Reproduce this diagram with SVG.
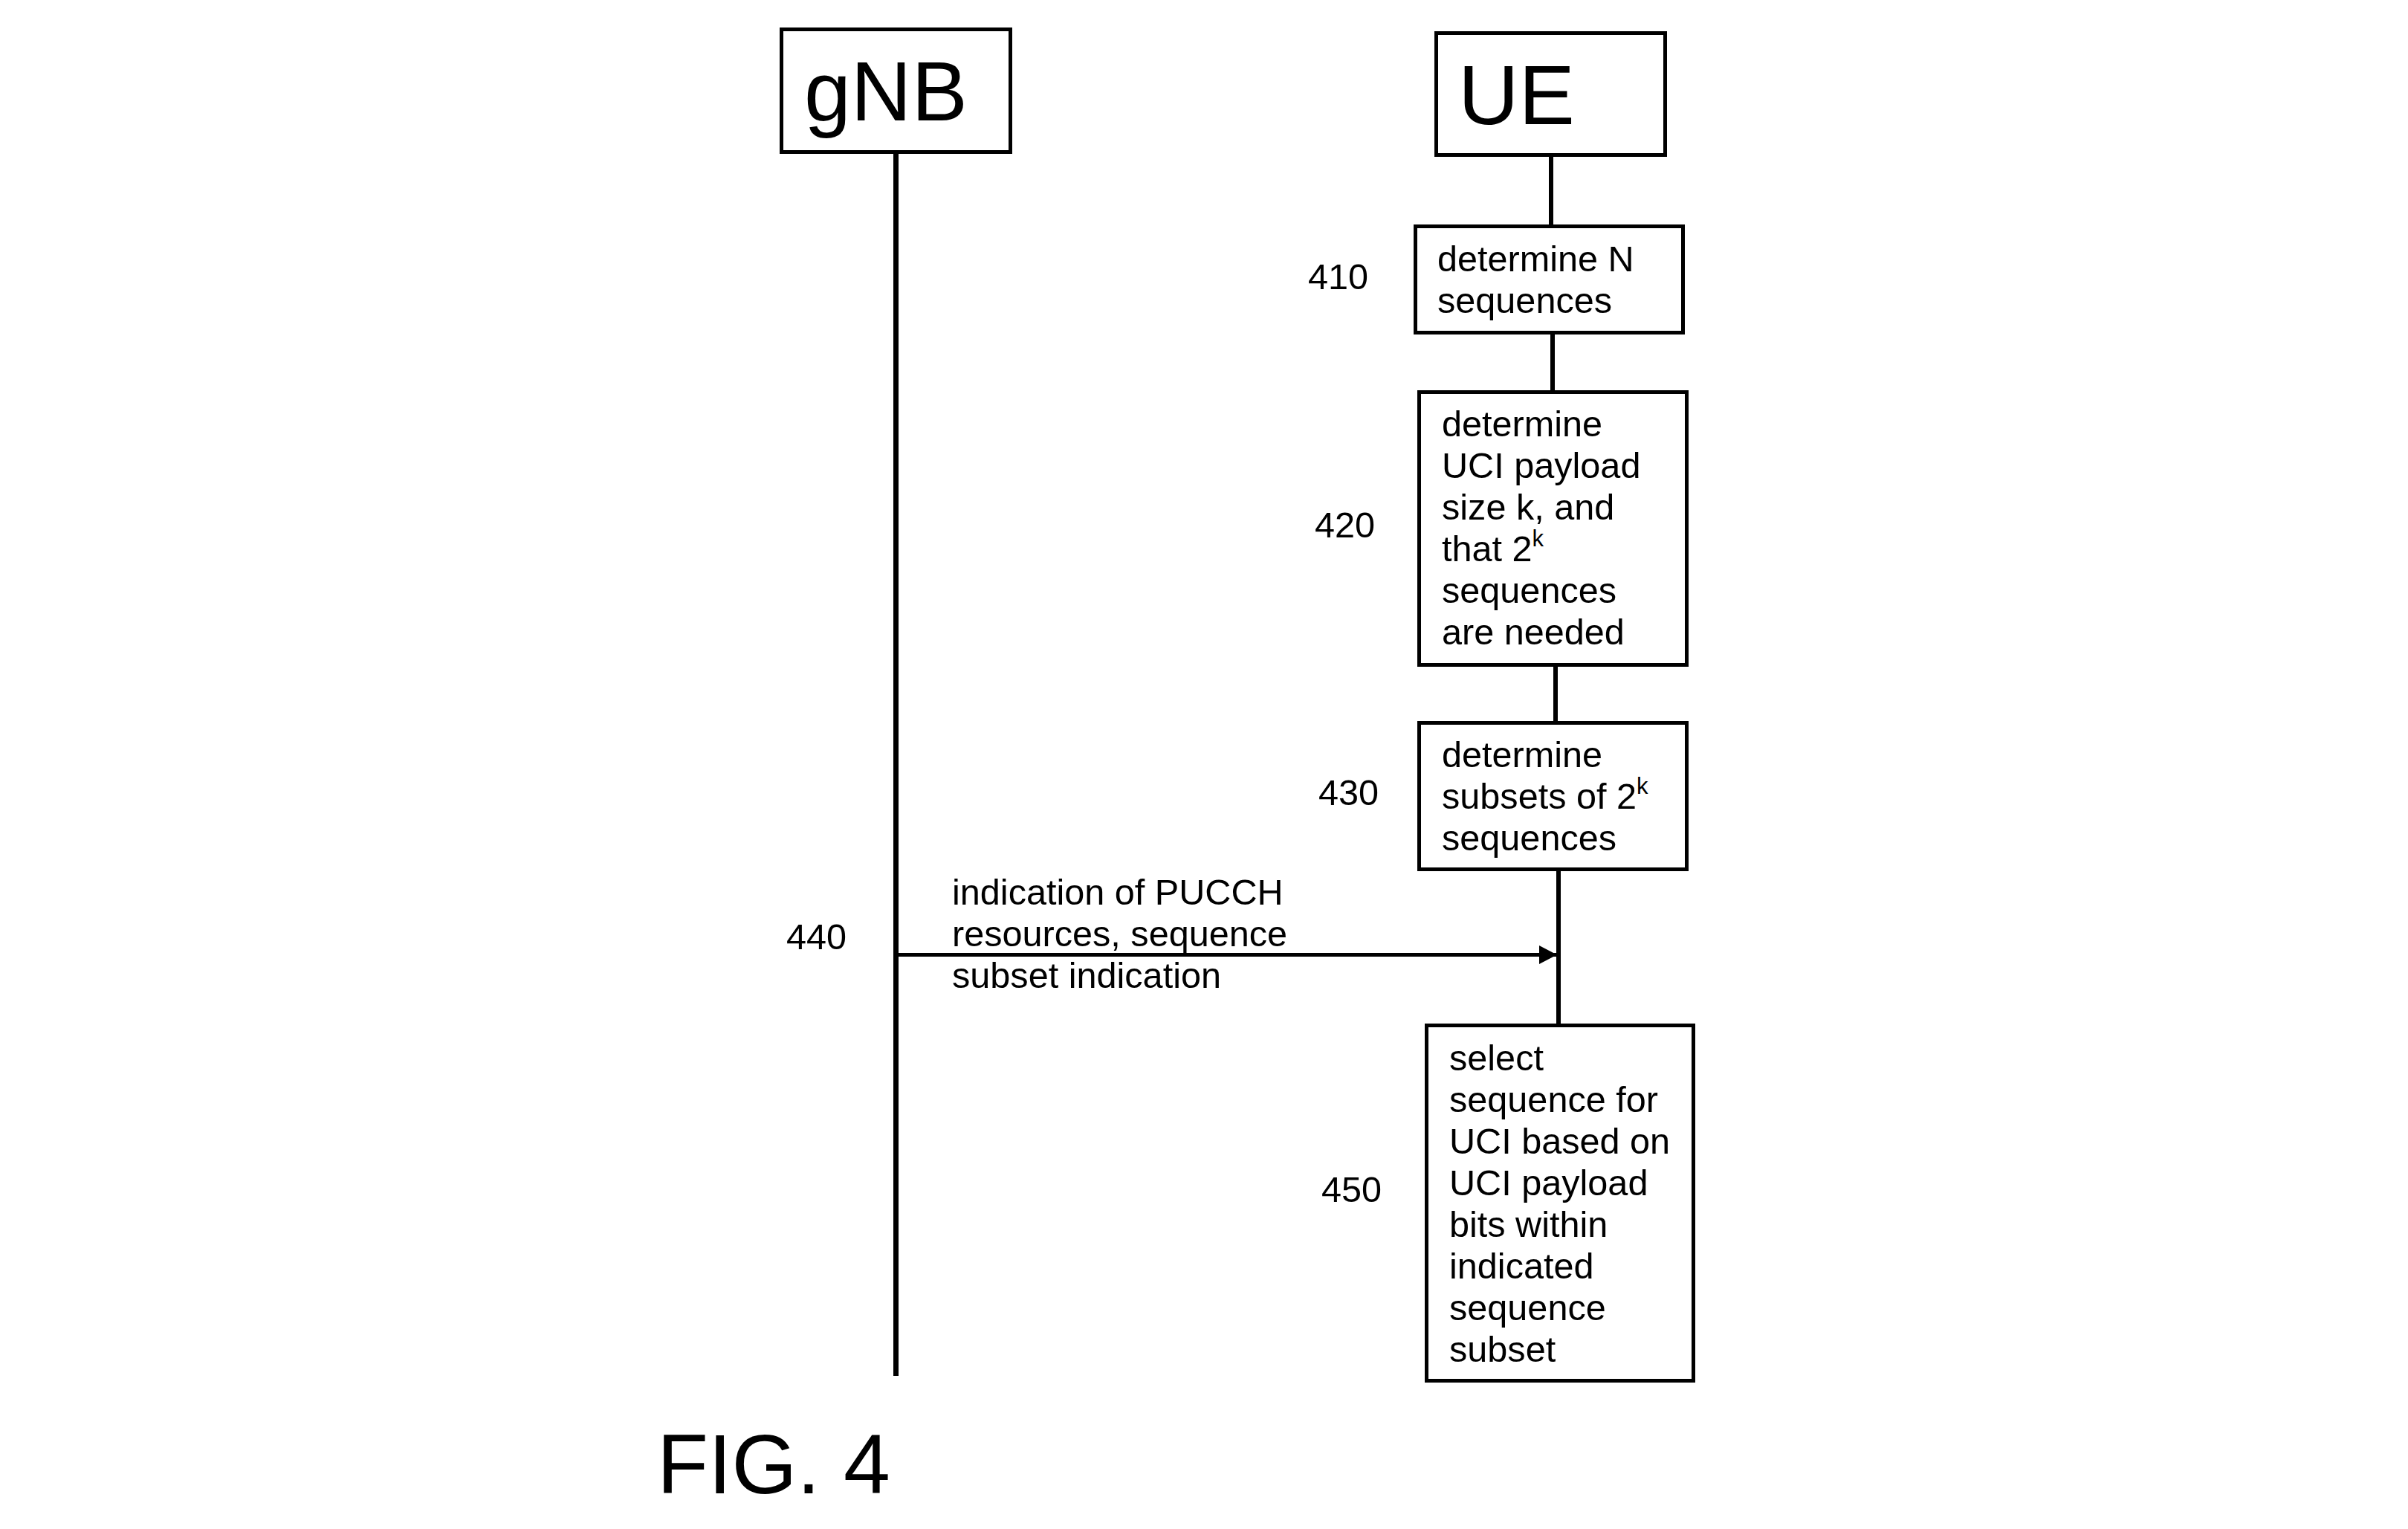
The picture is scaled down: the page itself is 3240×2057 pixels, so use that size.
<svg xmlns="http://www.w3.org/2000/svg" width="3240" height="2057" viewBox="0 0 3240 2057">
<style>
.box{fill:#fff;stroke:#000;stroke-width:5}
.life{stroke:#000;stroke-width:7;fill:none}
.seg{stroke:#000;stroke-width:6;fill:none}
.msg{stroke:#000;stroke-width:5;fill:none}
text{font-family:"Liberation Sans",Arial,sans-serif;fill:#000}
.big{font-size:113px}
.t{font-size:48.6px}
.sup{font-size:31px}
</style>
<defs>
<marker id="ah" markerUnits="userSpaceOnUse" markerWidth="24" markerHeight="25" refX="24" refY="12.5" orient="auto">
<path d="M0,0 L24,12.5 L0,25 Z" fill="#000"/>
</marker>
</defs>
<rect width="3240" height="2057" fill="#fff"/>
<g id="connectors">
<line class="life" x1="1205.5" y1="207" x2="1205.5" y2="1851"/>
<line class="seg" x1="2087" y1="211" x2="2087" y2="302"/>
<line class="seg" x1="2089" y1="450" x2="2089" y2="525"/>
<line class="seg" x1="2093" y1="897" x2="2093" y2="970"/>
<line class="seg" x1="2097" y1="1172" x2="2097" y2="1377"/>
<line class="msg" x1="1209" y1="1284.5" x2="2095" y2="1284.5" marker-end="url(#ah)"/>
</g>
<g id="gNB">
<rect class="box" x="1051.5" y="39.5" width="308" height="165"/>
<text class="big" x="1082" y="162">gNB</text>
</g>
<g id="UE">
<rect class="box" x="1932.5" y="44.5" width="308" height="164"/>
<text class="big" x="1962" y="167">UE</text>
</g>
<g id="step410">
<rect class="box" x="1904.5" y="304.5" width="360" height="143"/>
<text class="t" x="1934" y="365">determine N</text>
<text class="t" x="1934" y="421">sequences</text>
<text class="t" x="1760" y="389">410</text>
</g>
<g id="step420">
<rect class="box" x="1909.5" y="527.5" width="360" height="367"/>
<text class="t" x="1940" y="587">determine</text>
<text class="t" x="1940" y="643">UCI payload</text>
<text class="t" x="1940" y="699">size k, and</text>
<text class="t" x="1940" y="755">that 2<tspan class="sup" dy="-20">k</tspan></text>
<text class="t" x="1940" y="811">sequences</text>
<text class="t" x="1940" y="867">are needed</text>
<text class="t" x="1769" y="723">420</text>
</g>
<g id="step430">
<rect class="box" x="1909.5" y="972.5" width="360" height="197"/>
<text class="t" x="1940" y="1032">determine</text>
<text class="t" x="1940" y="1088">subsets of 2<tspan class="sup" dy="-20">k</tspan></text>
<text class="t" x="1940" y="1144">sequences</text>
<text class="t" x="1774" y="1083">430</text>
</g>
<g id="msg440">
<text class="t" x="1281" y="1217">indication of PUCCH</text>
<text class="t" x="1281" y="1273">resources, sequence</text>
<text class="t" x="1281" y="1329">subset indication</text>
<text class="t" x="1058" y="1277">440</text>
</g>
<g id="step450">
<rect class="box" x="1919.5" y="1379.5" width="359" height="478"/>
<text class="t" x="1950" y="1440">select</text>
<text class="t" x="1950" y="1496">sequence for</text>
<text class="t" x="1950" y="1552">UCI based on</text>
<text class="t" x="1950" y="1608">UCI payload</text>
<text class="t" x="1950" y="1664">bits within</text>
<text class="t" x="1950" y="1720">indicated</text>
<text class="t" x="1950" y="1776">sequence</text>
<text class="t" x="1950" y="1832">subset</text>
<text class="t" x="1778" y="1617">450</text>
</g>
<g id="caption">
<text class="big" x="884" y="2009">FIG. 4</text>
</g>
</svg>
